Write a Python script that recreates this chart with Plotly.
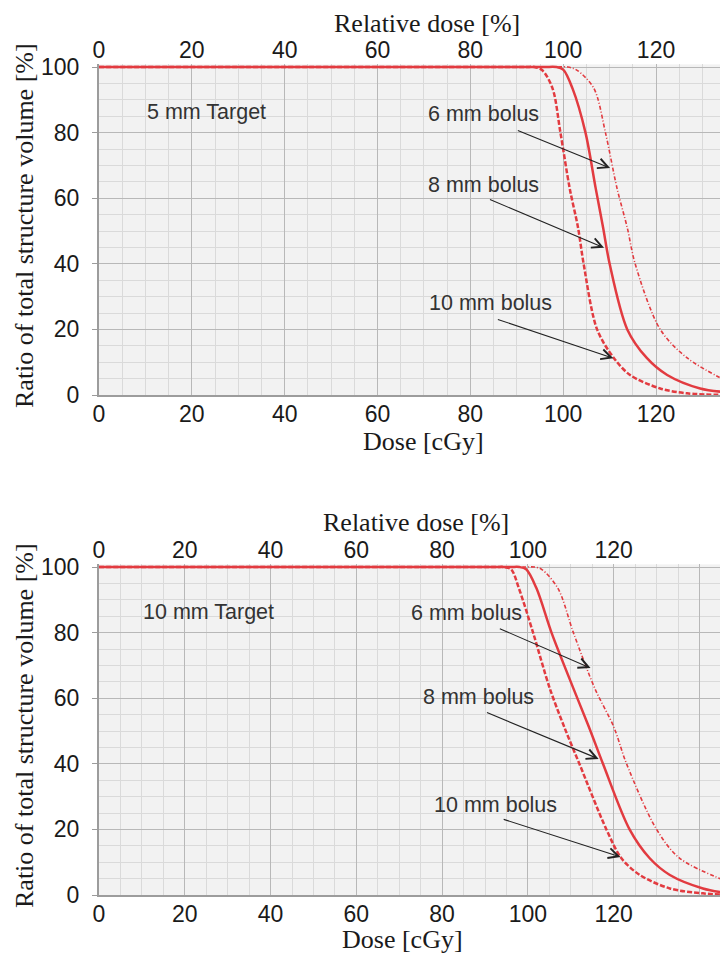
import plotly.graph_objects as go

# ---------------- data ----------------
dose_ticks = [0, 20, 40, 60, 80, 100, 120, 140]
dose_labels = ["0", "20", "40", "60", "80", "100", "120", ""]
rel_ticks = [0, 20, 40, 60, 80, 100, 120]
rel_labels = ["0", "20", "40", "60", "80", "100", "120"]
vol_ticks = [0, 20, 40, 60, 80, 100]

# Panel 1: 5 mm target
p1_b10_dose = [0, 85, 92, 93.8, 95.5, 97.7, 99.4, 101.4, 103.2, 104.4, 107.3, 110.9, 114.4, 120.9, 126.7, 135.5]
p1_b10_vol = [100, 100, 100, 100, 99, 93.5, 80, 63, 51, 40, 20, 11.3, 6.1, 2, 0.5, 0]
p1_b8_dose = [0, 88, 96, 98.5, 100, 102, 104.8, 107, 108.6, 110, 113.8, 118, 122.4, 129.5, 135.5]
p1_b8_vol = [100, 100, 100, 100, 99.2, 93.5, 80, 63, 51, 40, 20, 11.3, 6.1, 2, 0.8]
p1_b6_dose = [0, 90, 98.5, 101, 103, 106.6, 109.1, 111.6, 113.8, 115.5, 120.9, 126.7, 135.5]
p1_b6_vol = [100, 100, 100, 100, 99, 93.5, 80, 63, 51, 40, 20, 11.3, 4]

# Panel 2: 10 mm target
p2_b10_dose = [0, 85, 92.5, 94.5, 96.1, 97.9, 101.2, 105.1, 108.6, 112, 118.3, 121.8, 126.1, 133.1, 140.8, 146.7]
p2_b10_vol = [100, 100, 100, 100, 99.3, 93.5, 80, 63, 50.8, 40, 20, 11.2, 6.1, 2, 0.5, 0]
p2_b8_dose = [0, 88, 96, 98, 99.6, 102, 105.5, 110.6, 114.2, 117.5, 123.7, 128.4, 133.1, 140.8, 146.7]
p2_b8_vol = [100, 100, 100, 100, 99.3, 93.5, 80, 63, 51.3, 40, 20, 11.2, 6.1, 2, 0.5]
p2_b6_dose = [0, 90, 99.5, 101.5, 103.2, 107, 110.6, 115.6, 120, 123, 130, 135.4, 146.7]
p2_b6_vol = [100, 100, 100, 100, 99.3, 93.5, 80, 63, 51.3, 40, 20, 11.2, 4]

RED = "#e23b40"
TICKFONT = dict(family="Liberation Sans, Arial, sans-serif", size=23, color="#1a1a1a")
SERIF = dict(family="Liberation Serif, Times New Roman, serif", size=26, color="#1a1a1a")
ANNFONT = dict(family="Liberation Sans, Arial, sans-serif", size=21.5, color="#333333")
SMOOTH = 0.9

fig = go.Figure()


def add_panel(xa, ya, b10d, b10v, b8d, b8v, b6d, b6v):
    fig.add_trace(go.Scatter(x=b6d, y=b6v, xaxis=xa, yaxis=ya, mode="lines",
                             line=dict(color=RED, width=1.6, dash="4px,2px,1px,2px", shape="spline", smoothing=SMOOTH),
                             showlegend=False, hoverinfo="skip"))
    fig.add_trace(go.Scatter(x=b8d, y=b8v, xaxis=xa, yaxis=ya, mode="lines",
                             line=dict(color=RED, width=2.5, shape="spline", smoothing=SMOOTH),
                             showlegend=False, hoverinfo="skip"))
    fig.add_trace(go.Scatter(x=b10d, y=b10v, xaxis=xa, yaxis=ya, mode="lines",
                             line=dict(color=RED, width=2.5, dash="5px,2px", shape="spline", smoothing=SMOOTH),
                             showlegend=False, hoverinfo="skip"))


add_panel("x", "y", p1_b10_dose, p1_b10_vol, p1_b8_dose, p1_b8_vol, p1_b6_dose, p1_b6_vol)
add_panel("x2", "y2", p2_b10_dose, p2_b10_vol, p2_b8_dose, p2_b8_vol, p2_b6_dose, p2_b6_vol)
# invisible traces so the top (relative dose) axes are created
fig.add_trace(go.Scatter(x=[None], y=[None], xaxis="x3", yaxis="y", showlegend=False, hoverinfo="skip"))
fig.add_trace(go.Scatter(x=[None], y=[None], xaxis="x4", yaxis="y2", showlegend=False, hoverinfo="skip"))

H = 956.0
OFF = 8.0  # page body margin of the browser


def ydom(top_px, bot_px):
    return [1 - (bot_px - OFF) / H, 1 - (top_px - OFF) / H]


def xaxis_common(rng, anchor):
    return dict(domain=[0, 1], anchor=anchor, range=rng, tickmode="array",
                tickvals=dose_ticks, ticktext=dose_labels, showgrid=True,
                gridcolor="#b8b8b8", gridwidth=1.3,
                minor=dict(tick0=0, dtick=5, showgrid=True, gridcolor="#dadada", gridwidth=1),
                showline=True, linecolor="#9c9c9c", linewidth=2, ticks="",
                tickfont=TICKFONT, zeroline=False, ticklabelstandoff=-3)


def yaxis_common(dom, anchor):
    return dict(domain=dom, anchor=anchor, range=[0, 100.8], tickmode="array",
                tickvals=vol_ticks, showgrid=True, gridcolor="#b8b8b8", gridwidth=1.3,
                minor=dict(tick0=0, dtick=5, showgrid=True, gridcolor="#dadada", gridwidth=1),
                showline=True, linecolor="#9c9c9c", linewidth=2, ticks="outside",
                ticklen=5, tickcolor="#9c9c9c", tickfont=TICKFONT, zeroline=False,
                ticklabelstandoff=8)


def topaxis(rng, over, anchor):
    return dict(overlaying=over, side="top", anchor=anchor, range=rng, tickmode="array",
                tickvals=rel_ticks, ticktext=rel_labels, showgrid=False, showline=False,
                ticks="", tickfont=TICKFONT, zeroline=False, ticklabelstandoff=1)


R1 = [0, 135.5]
R2 = [0, 146.65]
fig.update_layout(
    width=728, height=956,
    margin=dict(l=91, r=8, t=0, b=0, autoexpand=False),
    paper_bgcolor="white", plot_bgcolor="#f2f2f2",
    xaxis=xaxis_common(R1, "y"),
    yaxis=yaxis_common(ydom(64.4, 395), "x"),
    xaxis2=xaxis_common(R2, "y2"),
    yaxis2=yaxis_common(ydom(564.4, 895), "x2"),
    xaxis3=topaxis(R1, "x", "y"),
    xaxis4=topaxis(R2, "x2", "y2"),
)


def px_x(px):
    return (px - 99) / 629.0


def px_y(py):
    return 1 - (py - OFF) / H


ann = []
# axis titles
for txt, x, y, ang in [
    ("Relative dose [%]", 427, 23, 0),
    ("Dose [cGy]", 423, 441, 0),
    ("Relative dose [%]", 416, 522, 0),
    ("Dose [cGy]", 402, 939, 0),
    ("Ratio of total structure volume [%]", 24, 226, -90),
    ("Ratio of total structure volume [%]", 24, 726, -90),
]:
    ann.append(dict(text=txt, x=px_x(x), y=px_y(y), xref="paper", yref="paper",
                    xanchor="center", yanchor="middle", showarrow=False, font=SERIF,
                    textangle=ang))

# panel labels (data coordinates)
labels = [
    ("x", "y", "5 mm Target", 23.2, 86.3),
    ("x", "y", "6 mm bolus", 82.8, 85.7),
    ("x", "y", "8 mm bolus", 82.8, 64.0),
    ("x", "y", "10 mm bolus", 84.3, 28.0),
    ("x2", "y2", "10 mm Target", 25.5, 86.3),
    ("x2", "y2", "6 mm bolus", 85.6, 86.0),
    ("x2", "y2", "8 mm bolus", 88.4, 60.4),
    ("x2", "y2", "10 mm bolus", 92.4, 27.4),
]
for xr, yr, txt, x, y in labels:
    ann.append(dict(text=txt, x=x, y=y, xref=xr, yref=yr, xanchor="center",
                    yanchor="middle", showarrow=False, font=ANNFONT))

arrows = [
    ("x", "y", 89.9, 80.8, 110.1, 69.2),
    ("x", "y", 83.9, 59.8, 108.8, 44.9),
    ("x", "y", 85.6, 23.2, 110.8, 11.2),
    ("x2", "y2", 93.1, 81.4, 114.6, 69.2),
    ("x2", "y2", 90.1, 55.8, 116.5, 41.5),
    ("x2", "y2", 94.0, 23.2, 121.6, 11.6),
]
for xr, yr, tx, ty, hx, hy in arrows:
    ann.append(dict(text="", x=hx, y=hy, ax=tx, ay=ty, xref=xr, yref=yr,
                    axref=xr, ayref=yr, showarrow=True, arrowhead=5, arrowsize=1.8,
                    arrowwidth=1.1, arrowcolor="#222222", standoff=0))

fig.update_layout(annotations=ann)
fig.write_html("out.html")
